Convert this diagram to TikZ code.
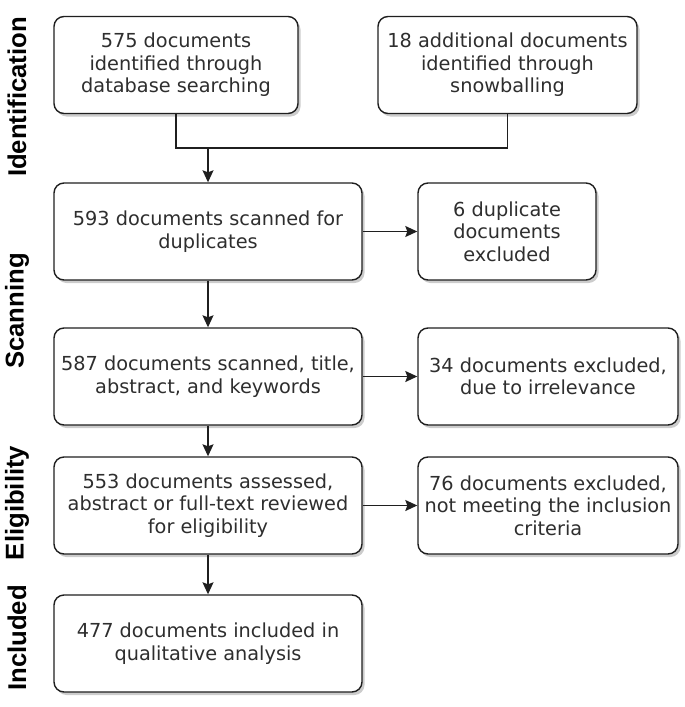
\documentclass[tikz,border=0pt]{standalone}
\usepackage{fontspec}
\setmainfont{DejaVu Sans}
\newfontfamily\phasefont{Liberation Sans}
\usepackage{tikz}
\usetikzlibrary{positioning,shadows,arrows.meta}
\definecolor{boxline}{gray}{0.12}
\definecolor{boxtext}{gray}{0.18}

\begin{document}
\begin{tikzpicture}[x=1pt,y=-1pt,>={Stealth[length=12pt,width=11pt,inset=2pt]},line width=1.4pt]
  \tikzstyle{stage}=[rectangle, rounded corners=10pt, draw=boxline, fill=white,
    text=boxtext, align=center, inner sep=0pt, minimum height=97pt,
    font=\fontsize{19.3}{22.5}\selectfont,
    drop shadow={shadow xshift=2.5pt, shadow yshift=-3pt, opacity=0.4}]
  \tikzstyle{phase}=[rotate=90, font=\phasefont\bfseries\fontsize{25.7}{28}\selectfont]
  \useasboundingbox (0,0) rectangle (685,707);
  % phases
  \node[phase] (P_1) at (17,97)  {Identification};
  \node[phase] (P_2) at (17,311) {Scanning};
  \node[phase] (P_3) at (17,503) {Eligibility};
  \node[phase] (P_4) at (17,638) {Included};
  % boxes
  \node[stage, minimum width=244pt] (D_1) at (176,65)
    {575 documents\\identified through\\database searching};
  \node[stage, minimum width=259pt] (D_2) at (507.5,65)
    {18 additional documents\\identified through\\snowballing};
  \node[stage, minimum width=308pt] (D_3) at (208,231.5)
    {593 documents scanned for\\duplicates};
  \node[stage, minimum width=178pt] (X_3) at (507,231.5)
    {6 duplicate\\documents\\excluded};
  \node[stage, minimum width=308pt] (D_4) at (208,376.5)
    {587 documents scanned, title,\\abstract, and keywords};
  \node[stage, minimum width=260pt] (X_4) at (548,376.5)
    {34 documents excluded,\\due to irrelevance};
  \node[stage, minimum width=308pt] (D_5) at (208,505.5)
    {553 documents assessed,\\abstract or full-text reviewed\\for eligibility};
  \node[stage, minimum width=260pt] (X_5) at (548,505.5)
    {76 documents excluded,\\not meeting the inclusion\\criteria};
  \node[stage, minimum width=308pt] (D_6) at (208,643.5)
    {477 documents included in\\qualitative analysis};
  % connectors
  \coordinate (M) at (208,148);
  \draw[boxline] (D_1.south) |- (M) -| (D_2.south);
  \draw[boxline,->] (M) -- (D_3);
  \draw[boxline,->] (D_3) -- (D_4);
  \draw[boxline,->] (D_4) -- (D_5);
  \draw[boxline,->] (D_5) -- (D_6);
  \draw[boxline,->] (D_3) -- (X_3);
  \draw[boxline,->] (D_4) -- (X_4);
  \draw[boxline,->] (D_5) -- (X_5);
\end{tikzpicture}
\end{document}
